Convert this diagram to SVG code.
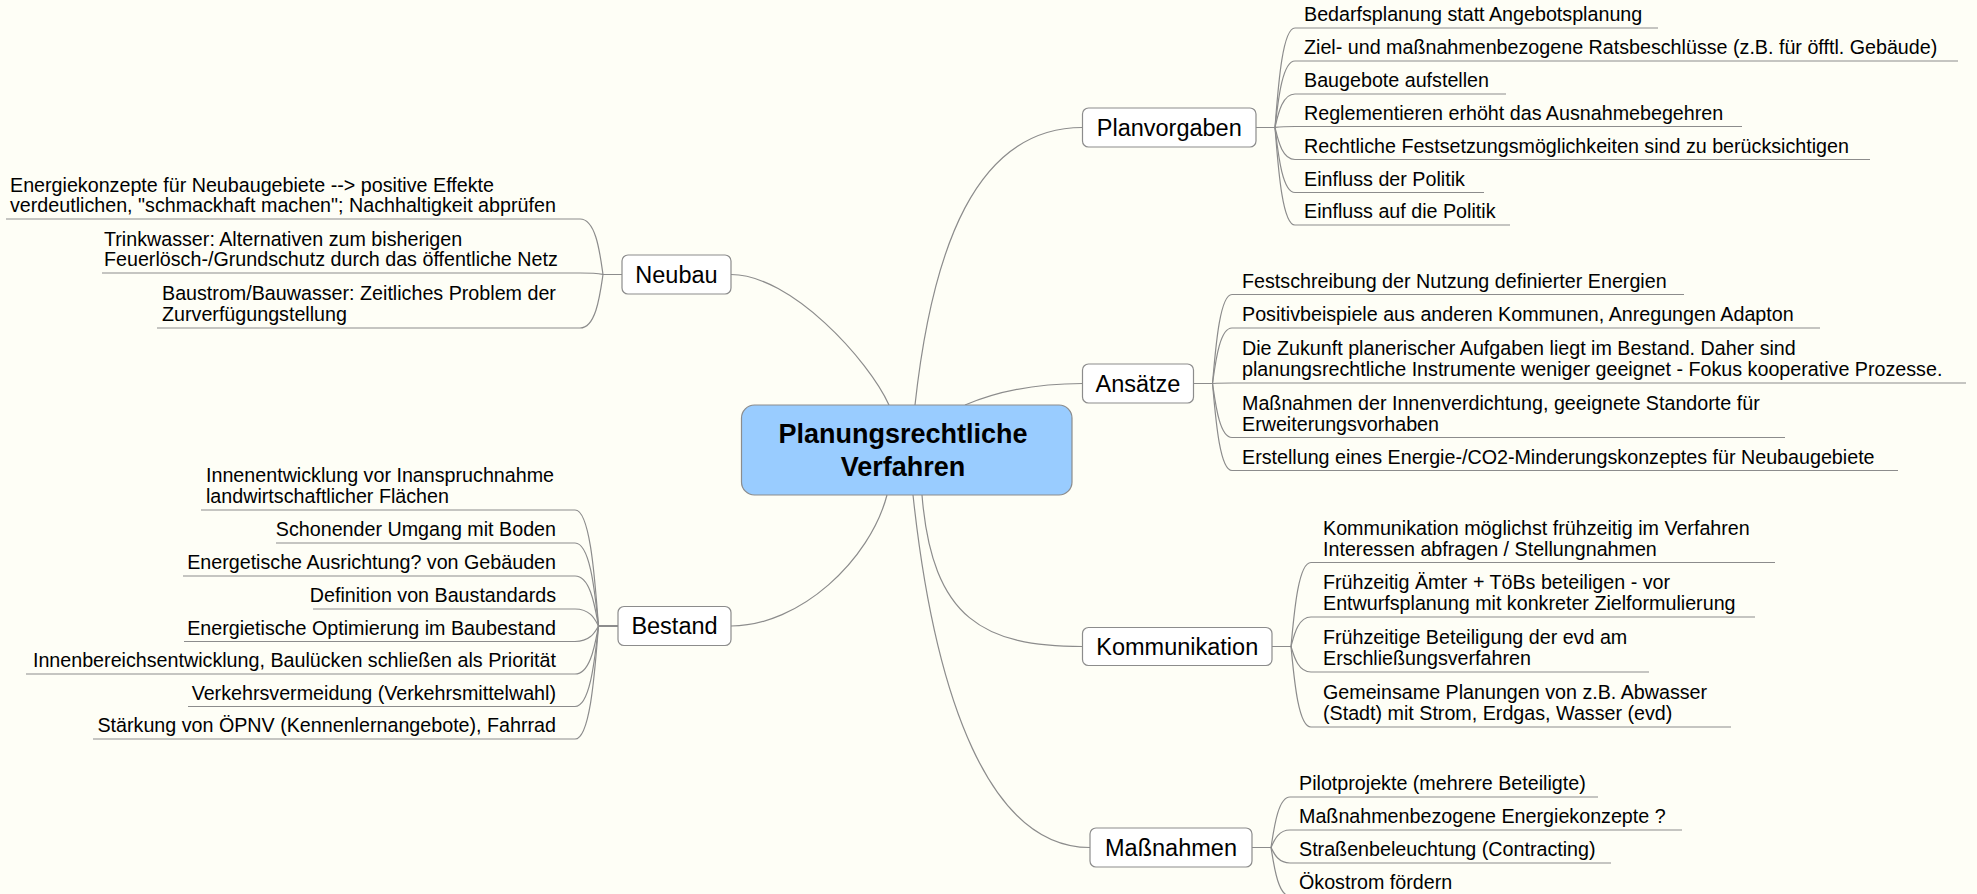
<svg xmlns="http://www.w3.org/2000/svg" width="1977" height="894" viewBox="0 0 1977 894">
<style>
.bg{fill:#FEFEF6}
.c{fill:none;stroke:#8c8c8c;stroke-width:1.2}
.topic{fill:#ffffff;stroke:#8c8c8c;stroke-width:1.2}
.central{fill:#99CCFF;stroke:#8c8c8c;stroke-width:1.2}
.ct{font-family:"Liberation Sans",Arial,sans-serif;font-size:27px;font-weight:bold;fill:#000;text-anchor:middle}
.tt{font-family:"Liberation Sans",Arial,sans-serif;font-size:23.5px;fill:#000;text-anchor:middle}
.lt{font-family:"Liberation Sans",Arial,sans-serif;font-size:19.7px;fill:#000}
.r{text-anchor:end}
</style>
<rect class="bg" x="0" y="0" width="1977" height="894"/>
<g id="connectors">
<path class="c" d="M731,274.5 C791,274.5 868.5,360 889,405"/>
<path class="c" d="M915,405 C932,250 975,127.5 1082.5,127.5"/>
<path class="c" d="M965,405 C1000,390 1040,383.5 1082.5,383.5"/>
<path class="c" d="M887,495 C870,560 800,626 731,626"/>
<path class="c" d="M922,495 C932,620 985,646.5 1082.5,646.5"/>
<path class="c" d="M913,495 C935,700 990,847.5 1090,847.5"/>
<path class="c" d="M1256,127.5 H1275 C1278,89.7 1282,28 1295,28 H1658"/>
<path class="c" d="M1256,127.5 H1275 C1278,102.2 1282,61 1295,61 H1958"/>
<path class="c" d="M1256,127.5 H1275 C1278,114.8 1282,94 1295,94 H1506"/>
<path class="c" d="M1256,127.5 H1275 C1278,127.1 1282,126.5 1295,126.5 H1742"/>
<path class="c" d="M1256,127.5 H1275 C1278,139.7 1282,159.5 1295,159.5 H1870"/>
<path class="c" d="M1256,127.5 H1275 C1278,152.2 1282,192.5 1295,192.5 H1484"/>
<path class="c" d="M1256,127.5 H1275 C1278,164.6 1282,225 1295,225 H1510"/>
<path class="c" d="M1193.5,383.5 H1212.5 C1215.5,349.7 1219.5,294.5 1232,294.5 H1684"/>
<path class="c" d="M1193.5,383.5 H1212.5 C1215.5,362.4 1219.5,328 1232,328 H1820"/>
<path class="c" d="M1193.5,383.5 H1212.5 C1215.5,383.3 1219.5,383 1232,383 H1966"/>
<path class="c" d="M1193.5,383.5 H1212.5 C1215.5,404 1219.5,437.5 1232,437.5 H1785"/>
<path class="c" d="M1193.5,383.5 H1212.5 C1215.5,416.6 1219.5,470.5 1232,470.5 H1898"/>
<path class="c" d="M1272,646.5 H1291 C1294,614.6 1298,562.5 1311,562.5 H1775"/>
<path class="c" d="M1272,646.5 H1291 C1294,635.3 1298,617 1311,617 H1755"/>
<path class="c" d="M1272,646.5 H1291 C1294,656.2 1298,672 1311,672 H1649"/>
<path class="c" d="M1272,646.5 H1291 C1294,677.1 1298,727 1311,727 H1731"/>
<path class="c" d="M1252,847.5 H1271 C1274,828.3 1278,797 1290,797 H1598"/>
<path class="c" d="M1252,847.5 H1271 C1274,840.9 1278,830 1290,830 H1682"/>
<path class="c" d="M1252,847.5 H1271 C1274,853.4 1278,863 1290,863 H1611"/>
<path class="c" d="M1252,847.5 H1271 C1274,865.9 1278,896 1290,896 H1470"/>
<path class="c" d="M622,274.5 H603 C600,253.4 596,219 580,219 H6"/>
<path class="c" d="M622,274.5 H603 C600,273.9 596,273 580,273 H102"/>
<path class="c" d="M622,274.5 H603 C600,294.8 596,328 580,328 H157"/>
<path class="c" d="M618,626 H598.5 C595,581.9 590.5,510 575,510 H201"/>
<path class="c" d="M618,626 H598.5 C595,594.5 590.5,543 575,543 H276"/>
<path class="c" d="M618,626 H598.5 C595,607 590.5,576 575,576 H183"/>
<path class="c" d="M618,626 H598.5 C595,619.5 590.5,609 575,609 H313"/>
<path class="c" d="M618,626 H598.5 C595,631.9 590.5,641.5 575,641.5 H184"/>
<path class="c" d="M618,626 H598.5 C595,644.2 590.5,674 575,674 H26"/>
<path class="c" d="M618,626 H598.5 C595,656.6 590.5,706.5 575,706.5 H188"/>
<path class="c" d="M618,626 H598.5 C595,668.9 590.5,739 575,739 H93"/>
</g>
<g id="central">
<rect class="central" x="741.5" y="405" width="330.5" height="90" rx="13"/>
<text class="ct" x="903" y="442.5">Planungsrechtliche</text>
<text class="ct" x="903" y="476">Verfahren</text>
</g>
<g id="planvorgaben">
<rect class="topic" x="1082.5" y="108" width="173.5" height="39" rx="6"/>
<text class="tt" x="1169.25" y="135.5">Planvorgaben</text>
</g>
<g id="ansaetze">
<rect class="topic" x="1082.5" y="364" width="111" height="39" rx="6"/>
<text class="tt" x="1138" y="391.5">Ansätze</text>
</g>
<g id="kommunikation">
<rect class="topic" x="1082.5" y="627.5" width="189.5" height="38" rx="6"/>
<text class="tt" x="1177.25" y="654.5">Kommunikation</text>
</g>
<g id="massnahmen">
<rect class="topic" x="1090" y="828" width="162" height="39" rx="6"/>
<text class="tt" x="1171" y="855.5">Maßnahmen</text>
</g>
<g id="neubau">
<rect class="topic" x="622" y="255" width="109" height="39" rx="6"/>
<text class="tt" x="676.5" y="282.5">Neubau</text>
</g>
<g id="bestand">
<rect class="topic" x="618" y="606.5" width="113" height="39" rx="6"/>
<text class="tt" x="674.5" y="634">Bestand</text>
</g>
<g id="leaf-p1"><text class="lt" x="1304" y="21">Bedarfsplanung statt Angebotsplanung</text></g>
<g id="leaf-p2"><text class="lt" x="1304" y="54">Ziel- und maßnahmenbezogene Ratsbeschlüsse (z.B. für öfftl. Gebäude)</text></g>
<g id="leaf-p3"><text class="lt" x="1304" y="87">Baugebote aufstellen</text></g>
<g id="leaf-p4"><text class="lt" x="1304" y="119.5">Reglementieren erhöht das Ausnahmebegehren</text></g>
<g id="leaf-p5"><text class="lt" x="1304" y="152.5">Rechtliche Festsetzungsmöglichkeiten sind zu berücksichtigen</text></g>
<g id="leaf-p6"><text class="lt" x="1304" y="185.5">Einfluss der Politik</text></g>
<g id="leaf-p7"><text class="lt" x="1304" y="218">Einfluss auf die Politik</text></g>
<g id="leaf-a1"><text class="lt" x="1242" y="287.5">Festschreibung der Nutzung definierter Energien</text></g>
<g id="leaf-a2"><text class="lt" x="1242" y="321">Positivbeispiele aus anderen Kommunen, Anregungen Adapton</text></g>
<g id="leaf-a3"><text class="lt" x="1242" y="355">Die Zukunft planerischer Aufgaben liegt im Bestand. Daher sind</text><text class="lt" x="1242" y="376">planungsrechtliche Instrumente weniger geeignet - Fokus kooperative Prozesse.</text></g>
<g id="leaf-a4"><text class="lt" x="1242" y="409.5">Maßnahmen der Innenverdichtung, geeignete Standorte für</text><text class="lt" x="1242" y="430.5">Erweiterungsvorhaben</text></g>
<g id="leaf-a5"><text class="lt" x="1242" y="463.5">Erstellung eines Energie-/CO2-Minderungskonzeptes für Neubaugebiete</text></g>
<g id="leaf-k1"><text class="lt" x="1323" y="534.5">Kommunikation möglichst frühzeitig im Verfahren</text><text class="lt" x="1323" y="555.5">Interessen abfragen / Stellungnahmen</text></g>
<g id="leaf-k2"><text class="lt" x="1323" y="589">Frühzeitig Ämter + TöBs beteiligen - vor</text><text class="lt" x="1323" y="610">Entwurfsplanung mit konkreter Zielformulierung</text></g>
<g id="leaf-k3"><text class="lt" x="1323" y="644">Frühzeitige Beteiligung der evd am</text><text class="lt" x="1323" y="665">Erschließungsverfahren</text></g>
<g id="leaf-k4"><text class="lt" x="1323" y="699">Gemeinsame Planungen von z.B. Abwasser</text><text class="lt" x="1323" y="720">(Stadt) mit Strom, Erdgas, Wasser (evd)</text></g>
<g id="leaf-m1"><text class="lt" x="1299" y="790">Pilotprojekte (mehrere Beteiligte)</text></g>
<g id="leaf-m2"><text class="lt" x="1299" y="823">Maßnahmenbezogene Energiekonzepte ?</text></g>
<g id="leaf-m3"><text class="lt" x="1299" y="856">Straßenbeleuchtung (Contracting)</text></g>
<g id="leaf-m4"><text class="lt" x="1299" y="889">Ökostrom fördern</text></g>
<g id="leaf-n1"><text class="lt" x="10" y="191.5">Energiekonzepte für Neubaugebiete --&gt; positive Effekte</text><text class="lt" x="10" y="212">verdeutlichen, "schmackhaft machen"; Nachhaltigkeit abprüfen</text></g>
<g id="leaf-n2"><text class="lt" x="104" y="245.5">Trinkwasser: Alternativen zum bisherigen</text><text class="lt" x="104" y="266">Feuerlösch-/Grundschutz durch das öffentliche Netz</text></g>
<g id="leaf-n3"><text class="lt" x="162" y="300">Baustrom/Bauwasser: Zeitliches Problem der</text><text class="lt" x="162" y="321">Zurverfügungstellung</text></g>
<g id="leaf-b1"><text class="lt" x="206" y="482">Innenentwicklung vor Inanspruchnahme</text><text class="lt" x="206" y="503">landwirtschaftlicher Flächen</text></g>
<g id="leaf-b2"><text class="lt r" x="556" y="536">Schonender Umgang mit Boden</text></g>
<g id="leaf-b3"><text class="lt r" x="556" y="569">Energetische Ausrichtung? von Gebäuden</text></g>
<g id="leaf-b4"><text class="lt r" x="556" y="602">Definition von Baustandards</text></g>
<g id="leaf-b5"><text class="lt r" x="556" y="634.5">Energietische Optimierung im Baubestand</text></g>
<g id="leaf-b6"><text class="lt r" x="556" y="667">Innenbereichsentwicklung, Baulücken schließen als Priorität</text></g>
<g id="leaf-b7"><text class="lt r" x="556" y="699.5">Verkehrsvermeidung (Verkehrsmittelwahl)</text></g>
<g id="leaf-b8"><text class="lt r" x="556" y="732">Stärkung von ÖPNV (Kennenlernangebote), Fahrrad</text></g>
</svg>
